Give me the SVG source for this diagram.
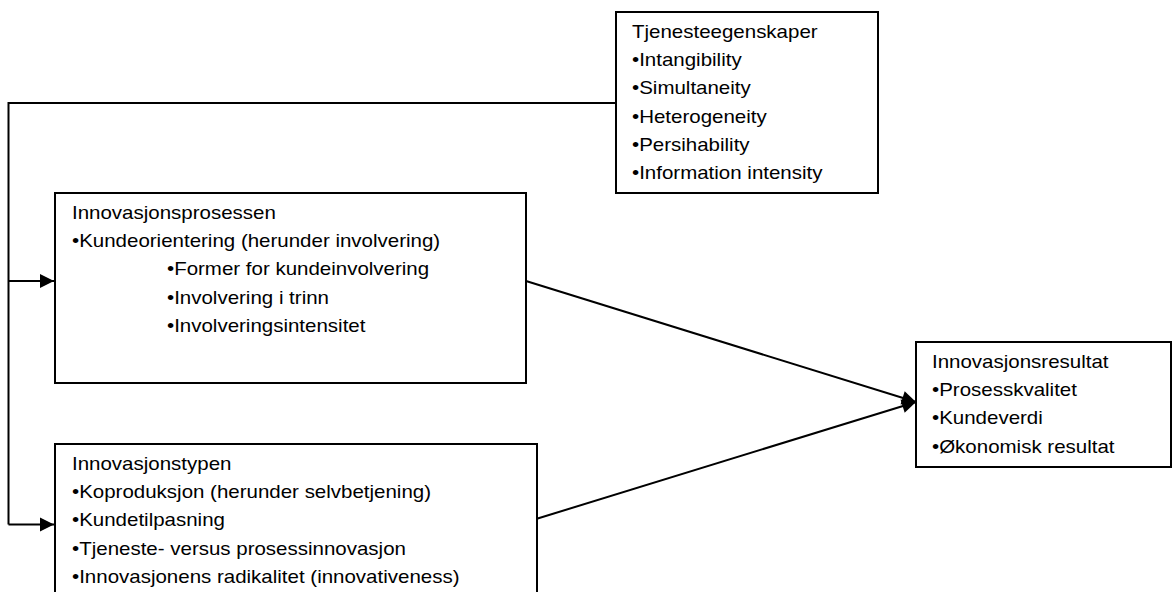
<svg xmlns="http://www.w3.org/2000/svg" width="1172" height="592" viewBox="0 0 1172 592">
<style>
.box{fill:#fff;stroke:#000;stroke-width:2}
.con{fill:none;stroke:#000;stroke-width:2}
text{font-family:"Liberation Sans",Arial,sans-serif;font-size:17.5px;fill:#000}
</style>
<defs>
<marker id="ah" markerUnits="userSpaceOnUse" markerWidth="16" markerHeight="16" viewBox="0 0 16 16" refX="15" refY="8" orient="auto">
<path d="M1,1 L15,8 L1,15 Z" fill="#000"/>
</marker>
</defs>
<rect width="1172" height="592" fill="#fff"/>
<g id="connectors">
<polyline class="con" points="616,103 8.5,103 8.5,524.5"/>
<line class="con" x1="8.5" y1="281" x2="54" y2="281" marker-end="url(#ah)"/>
<line class="con" x1="8.5" y1="524.5" x2="54" y2="524.5" marker-end="url(#ah)"/>
<line class="con" x1="526" y1="281" x2="916" y2="402" marker-end="url(#ah)"/>
<line class="con" x1="536" y1="519" x2="916" y2="402" marker-end="url(#ah)"/>
</g>
<g id="tjenesteegenskaper">
<rect class="box" x="616" y="12" width="262" height="181"/>
<g transform="translate(632,0) scale(1.171 1)">
<text x="0" y="38">Tjenesteegenskaper</text>
<text x="0" y="66.2">•Intangibility</text>
<text x="0" y="94.4">•Simultaneity</text>
<text x="0" y="122.6">•Heterogeneity</text>
<text x="0" y="150.8">•Persihability</text>
<text x="0" y="179">•Information intensity</text>
</g>
</g>
<g id="innovasjonsprosessen">
<rect class="box" x="55" y="193" width="471" height="190"/>
<g transform="translate(72,0) scale(1.171 1)">
<text x="0" y="219">Innovasjonsprosessen</text>
<text x="0" y="247.2">•Kundeorientering (herunder involvering)</text>
<text x="81.1" y="275.4">•Former for kundeinvolvering</text>
<text x="81.1" y="303.6">•Involvering i trinn</text>
<text x="81.1" y="331.8">•Involveringsintensitet</text>
</g>
</g>
<g id="innovasjonstypen">
<rect class="box" x="55" y="444" width="482" height="170"/>
<g transform="translate(72,0) scale(1.171 1)">
<text x="0" y="470">Innovasjonstypen</text>
<text x="0" y="498.2">•Koproduksjon (herunder selvbetjening)</text>
<text x="0" y="526.4">•Kundetilpasning</text>
<text x="0" y="554.6">•Tjeneste- versus prosessinnovasjon</text>
<text x="0" y="582.8">•Innovasjonens radikalitet (innovativeness)</text>
</g>
</g>
<g id="innovasjonsresultat">
<rect class="box" x="916" y="342" width="255" height="125"/>
<g transform="translate(932,0) scale(1.171 1)">
<text x="0" y="368">Innovasjonsresultat</text>
<text x="0" y="396.2">•Prosesskvalitet</text>
<text x="0" y="424.4">•Kundeverdi</text>
<text x="0" y="452.6">•Økonomisk resultat</text>
</g>
</g>
</svg>
